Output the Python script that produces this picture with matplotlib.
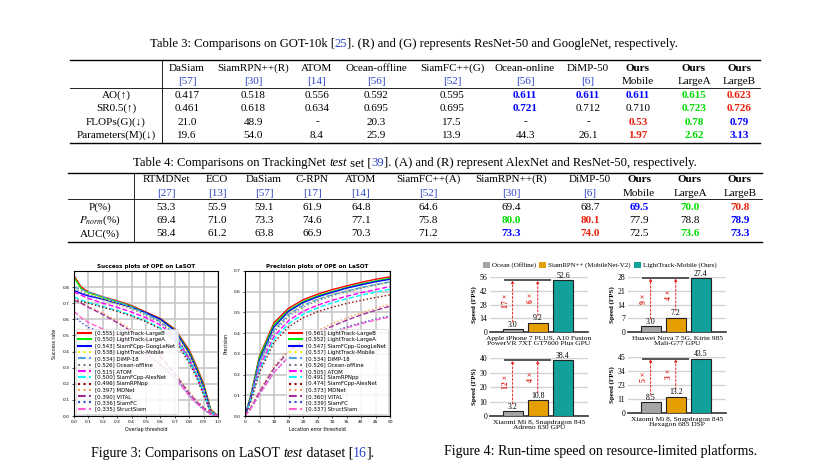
import numpy as np
import matplotlib
matplotlib.use("Agg")
import matplotlib.pyplot as plt
from matplotlib.lines import Line2D
from matplotlib.patches import Patch

# ---------------- data ----------------
# Table 3 (GOT-10k)
t3_methods = ["DaSiam", "SiamRPN++(R)", "ATOM", "Ocean-offline", "SiamFC++(G)",
              "Ocean-online", "DiMP-50", "Ours", "Ours", "Ours"]
t3_refs = ["[57]", "[30]", "[14]", "[56]", "[52]", "[56]", "[6]", "Mobile", "LargeA", "LargeB"]
t3_rows = ["AO(↑)", "SR0.5(↑)", "FLOPs(G)(↓)", "Parameters(M)(↓)"]
t3_values = [
    ["0.417", "0.518", "0.556", "0.592", "0.595", "0.611", "0.611", "0.611", "0.615", "0.623"],
    ["0.461", "0.618", "0.634", "0.695", "0.695", "0.721", "0.712", "0.710", "0.723", "0.726"],
    ["21.0", "48.9", "-", "20.3", "17.5", "-", "-", "0.53", "0.78", "0.79"],
    ["19.6", "54.0", "8.4", "25.9", "13.9", "44.3", "26.1", "1.97", "2.62", "3.13"],
]
t3_marks = [
    ["", "", "", "", "", "b", "b", "b", "g", "r"],
    ["", "", "", "", "", "b", "", "", "g", "r"],
    ["", "", "", "", "", "", "", "r", "g", "b"],
    ["", "", "", "", "", "", "", "r", "g", "b"],
]

# Table 4 (TrackingNet)
t4_methods = ["RTMDNet", "ECO", "DaSiam", "C-RPN", "ATOM", "SiamFC++(A)",
              "SiamRPN++(R)", "DiMP-50", "Ours", "Ours", "Ours"]
t4_refs = ["[27]", "[13]", "[57]", "[17]", "[14]", "[52]", "[30]", "[6]", "Mobile", "LargeA", "LargeB"]
t4_rows = ["P(%)", "$P_{norm}$(%)", "AUC(%)"]
t4_values = [
    ["53.3", "55.9", "59.1", "61.9", "64.8", "64.6", "69.4", "68.7", "69.5", "70.0", "70.8"],
    ["69.4", "71.0", "73.3", "74.6", "77.1", "75.8", "80.0", "80.1", "77.9", "78.8", "78.9"],
    ["58.4", "61.2", "63.8", "66.9", "70.3", "71.2", "73.3", "74.0", "72.5", "73.6", "73.3"],
]
t4_marks = [
    ["", "", "", "", "", "", "", "", "b", "g", "r"],
    ["", "", "", "", "", "", "g", "r", "", "", "b"],
    ["", "", "", "", "", "", "b", "r", "", "g", "b"],
]

# LaSOT success plot
succ_x = [0, 0.05, 0.1, 0.2, 0.3, 0.4, 0.5, 0.6, 0.7, 0.8, 0.85, 0.9, 0.95, 1.0]
succ_labels = ["[0.555] LightTrack-LargeB", "[0.550] LightTrack-LargeA", "[0.543] SiamFCpp-GoogLeNet",
               "[0.538] LightTrack-Mobile", "[0.534] DiMP-18", "[0.526] Ocean-offline",
               "[0.515] ATOM", "[0.500] SiamFCpp-AlexNet", "[0.496] SiamRPNpp",
               "[0.397] MDNet", "[0.390] VITAL", "[0.336] SiamFC", "[0.335] StructSiam"]
succ_y = [
    [0.87, 0.80, 0.77, 0.74, 0.715, 0.685, 0.645, 0.605, 0.54, 0.41, 0.31, 0.20, 0.04, 0.0],
    [0.86, 0.79, 0.765, 0.735, 0.71, 0.68, 0.64, 0.60, 0.535, 0.40, 0.30, 0.19, 0.035, 0.0],
    [0.78, 0.76, 0.745, 0.725, 0.70, 0.675, 0.64, 0.60, 0.53, 0.39, 0.29, 0.18, 0.03, 0.0],
    [0.80, 0.78, 0.76, 0.73, 0.70, 0.67, 0.63, 0.59, 0.52, 0.38, 0.28, 0.17, 0.03, 0.0],
    [0.80, 0.785, 0.77, 0.74, 0.71, 0.675, 0.635, 0.585, 0.51, 0.36, 0.26, 0.15, 0.025, 0.0],
    [0.79, 0.77, 0.755, 0.725, 0.695, 0.665, 0.625, 0.58, 0.50, 0.36, 0.26, 0.15, 0.025, 0.0],
    [0.77, 0.75, 0.73, 0.70, 0.675, 0.645, 0.61, 0.565, 0.49, 0.35, 0.25, 0.14, 0.02, 0.0],
    [0.74, 0.72, 0.705, 0.68, 0.655, 0.625, 0.59, 0.545, 0.48, 0.34, 0.25, 0.14, 0.02, 0.0],
    [0.73, 0.71, 0.70, 0.675, 0.65, 0.62, 0.585, 0.54, 0.47, 0.33, 0.24, 0.13, 0.02, 0.0],
    [0.72, 0.70, 0.68, 0.64, 0.59, 0.535, 0.47, 0.38, 0.27, 0.15, 0.10, 0.055, 0.02, 0.0],
    [0.72, 0.70, 0.675, 0.63, 0.58, 0.525, 0.46, 0.37, 0.26, 0.14, 0.09, 0.05, 0.015, 0.0],
    [0.62, 0.58, 0.55, 0.52, 0.48, 0.435, 0.385, 0.32, 0.24, 0.13, 0.08, 0.04, 0.01, 0.0],
    [0.65, 0.61, 0.58, 0.54, 0.495, 0.445, 0.39, 0.32, 0.235, 0.125, 0.08, 0.04, 0.01, 0.0],
]

# LaSOT precision plot
prec_x = [0, 2, 5, 10, 15, 20, 25, 30, 35, 40, 45, 50]
prec_labels = ["[0.561] LightTrack-LargeB", "[0.552] LightTrack-LargeA", "[0.547] SiamFCpp-GoogLeNet",
               "[0.537] LightTrack-Mobile", "[0.534] DiMP-18", "[0.526] Ocean-offline",
               "[0.505] ATOM", "[0.491] SiamRPNpp", "[0.474] SiamFCpp-AlexNet",
               "[0.373] MDNet", "[0.360] VITAL", "[0.339] SiamFC", "[0.337] StructSiam"]
prec_y = [
    [0, 0.10, 0.29, 0.45, 0.52, 0.561, 0.588, 0.61, 0.628, 0.645, 0.66, 0.672],
    [0, 0.10, 0.285, 0.44, 0.51, 0.552, 0.58, 0.60, 0.62, 0.637, 0.652, 0.665],
    [0, 0.09, 0.27, 0.43, 0.505, 0.547, 0.575, 0.597, 0.617, 0.633, 0.648, 0.66],
    [0, 0.09, 0.26, 0.42, 0.495, 0.537, 0.565, 0.587, 0.605, 0.62, 0.635, 0.648],
    [0, 0.09, 0.26, 0.415, 0.49, 0.534, 0.563, 0.585, 0.603, 0.62, 0.635, 0.648],
    [0, 0.085, 0.25, 0.405, 0.48, 0.526, 0.556, 0.58, 0.60, 0.617, 0.632, 0.645],
    [0, 0.08, 0.235, 0.385, 0.46, 0.505, 0.535, 0.558, 0.578, 0.595, 0.61, 0.625],
    [0, 0.075, 0.22, 0.37, 0.445, 0.491, 0.522, 0.546, 0.566, 0.583, 0.598, 0.612],
    [0, 0.07, 0.21, 0.355, 0.43, 0.474, 0.503, 0.525, 0.543, 0.558, 0.572, 0.585],
    [0, 0.04, 0.12, 0.24, 0.32, 0.373, 0.413, 0.445, 0.473, 0.498, 0.52, 0.54],
    [0, 0.04, 0.115, 0.23, 0.31, 0.36, 0.40, 0.433, 0.462, 0.488, 0.51, 0.53],
    [0, 0.035, 0.105, 0.21, 0.285, 0.339, 0.375, 0.405, 0.43, 0.45, 0.468, 0.483],
    [0, 0.035, 0.105, 0.21, 0.285, 0.337, 0.372, 0.40, 0.425, 0.445, 0.463, 0.478],
]

# run-time speed (FPS)
platforms = ["Apple iPhone 7 PLUS, A10 Fusion\nPowerVR 7XT GT7600 Plus GPU",
             "Huawei Nova 7 5G, Kirin 985\nMali-G77 GPU",
             "Xiaomi Mi 8, Snapdragon 845\nAdreno 630 GPU",
             "Xiaomi Mi 8, Snapdragon 845\nHexagon 685 DSP"]
fps_ocean = [3.0, 3.0, 3.2, 8.5]
fps_siamrpn = [9.2, 7.2, 10.8, 13.2]
fps_light = [52.6, 27.4, 38.4, 43.5]
speedup_ocean = ["17", "9", "12", "5"]
speedup_siamrpn = ["6", "4", "4", "3"]
fps_ticks = [["0", "14", "28", "42", "56"], ["0", "7", "14", "21", "28"],
             ["0", "10", "20", "30", "40"], ["0", "11", "23", "34", "45"]]
fps_max = [56, 28, 40, 45]
bar_names = ["Ocean (Offline)", "SiamRPN++ (MobileNet-V2)", "LightTrack-Mobile (Ours)"]

# ---------------- styles ----------------
W, H = 827, 465
SERIF = ["Liberation Serif", "DejaVu Serif"]
SANS = ["DejaVu Sans"]
plt.rcParams["mathtext.fontset"] = "stix"
HL = {"b": "#0000ff", "g": "#00dd00", "r": "#e8200c"}
CITE = "#2b45c8"
curve_styles = [("red", "-"), ("#00ee00", "-"), ("blue", "-"), ("#f2f200", ":"),
                ("#4aa3e6", "--"), ("#6f7b8a", ":"), ("magenta", "--"), ("cyan", "--"),
                ("#8b0000", ":"), ("#ff9a4d", ":"), ("#a02c96", "--"), ("#2f4fd8", ":"),
                ("#ff5fd0", "--")]
bar_colors = ["#a5a5a5", "#e69f00", "#11a19a"]
TFS = 8.0    # table font size
CFS = 9.1    # table caption size
FFS = 10.0   # figure caption size

fig = plt.figure(figsize=(W / 100, H / 100), dpi=100)
renderer = fig.canvas.get_renderer()


def fx(x):
    return x / W


def fy(y):
    return 1 - y / H


def hline(x0, x1, y, lw=0.6):
    fig.add_artist(Line2D([fx(x0), fx(x1)], [fy(y), fy(y)], lw=lw, color="black"))


def vline(x, y0, y1, lw=0.6):
    fig.add_artist(Line2D([fx(x), fx(x)], [fy(y0), fy(y1)], lw=lw, color="black"))


def text_width(s, size, style="normal"):
    t = fig.text(0, 0, "|" + s + "|", fontsize=size, style=style, family=SERIF)
    w1 = t.get_window_extent(renderer).width
    t.set_text("||")
    w2 = t.get_window_extent(renderer).width
    t.remove()
    return w1 - w2


def rich(xc, y, parts, size):
    # parts: (text, color, style)
    widths = [text_width(s, size, st) for s, c, st in parts]
    x = xc - sum(widths) / 2
    for (s, c, st), w in zip(parts, widths):
        fig.text(fx(x), fy(y), s, fontsize=size, color=c, style=st,
                 family=SERIF, va="center", ha="left")
        x += w


def cell(x, y, s, color="black", weight="normal"):
    fig.text(fx(x), fy(y), s, fontsize=TFS, color=color, weight=weight,
             family=SERIF, ha="center", va="center")


def draw_table(cols, label_x, left, right, sep, ys, methods, refs, rows, values, marks):
    top, h1, h2, mid, row_ys, bottom = ys
    hline(left, right, top, 1.0)
    hline(left, right, mid, 0.6)
    hline(left, right, bottom, 1.0)
    vline(sep, top, bottom, 0.6)
    for i, x in enumerate(cols):
        ours = methods[i] == "Ours"
        cell(x, h1, methods[i], weight="bold" if ours else "normal")
        cell(x, h2, refs[i], color="black" if ours else CITE)
    for r, name in enumerate(rows):
        cell(label_x, row_ys[r], name)
        for i, x in enumerate(cols):
            m = marks[r][i]
            cell(x, row_ys[r], values[r][i], color=HL.get(m, "black"),
                 weight="bold" if m else "normal")


# ---------------- Table 3 ----------------
rich(414, 44, [("Table 3: Comparisons on GOT-10k [", "black", "normal"),
               ("25", CITE, "normal"),
               ("]. (R) and (G) represents ResNet-50 and GoogleNet, respectively.", "black", "normal")], CFS)
draw_table([187, 253, 317, 376, 452, 525, 588, 638, 694, 739], 116, 70, 760, 162,
           (60, 68.5, 82, 88, [95.5, 108.5, 122, 135.5], 143),
           t3_methods, t3_refs, t3_rows, t3_values, t3_marks)

# ---------------- Table 4 ----------------
rich(415, 163, [("Table 4: Comparisons on TrackingNet ", "black", "normal"),
                ("test", "black", "italic"),
                (" set [", "black", "normal"),
                ("39", CITE, "normal"),
                ("]. (A) and (R) represent AlexNet and ResNet-50, respectively.", "black", "normal")], CFS)
draw_table([166, 217, 264, 312, 361, 428, 511, 590, 639, 690, 740], 100, 68, 762, 134,
           (173, 179.5, 193, 199, [207, 220.5, 234], 242),
           t4_methods, t4_refs, t4_rows, t4_values, t4_marks)


# ---------------- Figure 3: LaSOT ----------------
def lasot_axes(x0, x1, xs, ys_list, labels, title, xlabel, ylabel, xlim, ylim, xticks, yticks, loc):
    ax = fig.add_axes([fx(x0), fy(416), fx(x1) - fx(x0), fy(271) - fy(416)])
    for k, (c, ls) in enumerate(curve_styles):
        ax.plot(xs, ys_list[k], color=c, ls=ls, lw=1.0, label=labels[k])
    ax.set_xlim(*xlim)
    ax.set_ylim(*ylim)
    ax.set_xticks(xticks)
    ax.set_yticks(yticks)
    ax.set_xticklabels([f"{v:g}" if isinstance(v, int) else f"{v:.1f}" for v in xticks])
    ax.set_yticklabels([f"{v:.1f}" for v in yticks])
    ax.grid(True, color="#c8c8c8", lw=1.2)
    ax.set_axisbelow(True)
    ax.tick_params(labelsize=3.2, length=1.5, width=0.5, pad=1.5)
    for lab in ax.get_xticklabels() + ax.get_yticklabels():
        lab.set_family(SANS)
    for s in ax.spines.values():
        s.set_linewidth(0.8)
    ax.set_title(title, fontsize=4.1, weight="bold", family=SANS, pad=2.5)
    ax.set_xlabel(xlabel, fontsize=3.4, family=SANS, labelpad=2)
    ax.set_ylabel(ylabel, fontsize=3.4, family=SANS, labelpad=4)
    leg = ax.legend(loc=loc, handlelength=2.4, labelspacing=0.24,
                    borderaxespad=0.35, borderpad=0.45, handletextpad=0.7, framealpha=0.85,
                    prop={"family": SANS, "size": 3.9})
    for h in leg.get_lines():
        h.set_linewidth(1.5)
    leg.get_frame().set_linewidth(0.5)
    return ax


lasot_axes(74, 218, succ_x, succ_y, succ_labels, "Success plots of OPE on LaSOT",
           "Overlap threshold", "Success rate", (0, 1), (0, 0.9),
           [round(0.1 * i, 1) for i in range(11)], [round(0.1 * i, 1) for i in range(9)], "lower left")
lasot_axes(245, 390, prec_x, prec_y, prec_labels, "Precision plots of OPE on LaSOT",
           "Location error threshold", "Precision", (0, 50), (0, 0.7),
           list(range(0, 51, 5)), [round(0.1 * i, 1) for i in range(8)], "lower right")

rich(233, 453, [("Figure 3: Comparisons on LaSOT ", "black", "normal"),
                ("test", "black", "italic"),
                (" dataset [", "black", "normal"),
                ("16", CITE, "normal"),
                ("].", "black", "normal")], FFS)

# ---------------- Figure 4: run-time speed ----------------
panel_boxes = [(490, 588, 277, 332), (628, 726, 277, 332),
               (490, 588, 358, 416), (628, 726, 357, 413)]
for p, (x0, x1, y0, y1) in enumerate(panel_boxes):
    ax = fig.add_axes([fx(x0), fy(y1), fx(x1) - fx(x0), fy(y0) - fy(y1)])
    vals = [fps_ocean[p], fps_siamrpn[p], fps_light[p]]
    ymax = fps_max[p]
    ax.bar(range(3), vals, width=0.8, color=bar_colors, edgecolor="#222222", lw=0.8, zorder=3)
    for i, v in enumerate(vals):
        ax.text(i, v + 0.01 * ymax, f"{v:.1f}", ha="center", va="bottom", fontsize=5.6,
                family=SERIF, zorder=4)
    top = vals[2]
    ax.plot([-0.3, 1.5], [top, top], color="#555555", lw=1.4, zorder=4)
    for i, lab in enumerate([speedup_ocean[p], speedup_siamrpn[p]]):
        start = vals[i] + 0.13 * ymax
        ax.annotate("", xy=(i, top), xytext=(i, start),
                    arrowprops=dict(arrowstyle="-|>", ls=(0, (2, 2)), color="#e0231b", lw=0.7,
                                    shrinkA=0, shrinkB=0, mutation_scale=4))
        ax.text(i - 0.27, (start + top) / 2, lab + " ×", rotation=90, ha="center", va="center",
                color="#e0231b", fontsize=5.6, weight="bold", family=SERIF)
    ax.set_xlim(-0.9, 3.0)
    ax.set_ylim(0, ymax)
    ax.set_yticks(np.linspace(0, ymax, 5))
    ax.set_yticklabels(fps_ticks[p], fontsize=5.6, family=SERIF)
    ax.set_xticks([])
    ax.tick_params(axis="y", length=0, pad=2)
    ax.grid(True, axis="y", color="#d3d3d3", lw=1.0, zorder=0)
    ax.set_axisbelow(True)
    for side in ["left", "right", "top"]:
        ax.spines[side].set_visible(False)
    ax.spines["bottom"].set_color("#333333")
    ax.spines["bottom"].set_linewidth(1.2)
    ax.set_ylabel("Speed (FPS)", fontsize=5.0, weight="bold", family=SERIF, labelpad=2)
    ax.set_xlabel(platforms[p], fontsize=5.4, family=SERIF, labelpad=2.6, linespacing=1.15)

handles = [Patch(facecolor=c, edgecolor="none") for c in bar_colors]
fig.legend(handles, bar_names, loc="center", bbox_to_anchor=(fx(600), fy(265)), ncol=3,
           frameon=False, prop={"family": SERIF, "size": 5.0}, handlelength=1.0,
           handleheight=1.0, handletextpad=0.3, columnspacing=0.5)

rich(601, 451, [("Figure 4: Run-time speed on resource-limited platforms.", "black", "normal")], FFS)

fig.savefig("out.png", dpi=100)
